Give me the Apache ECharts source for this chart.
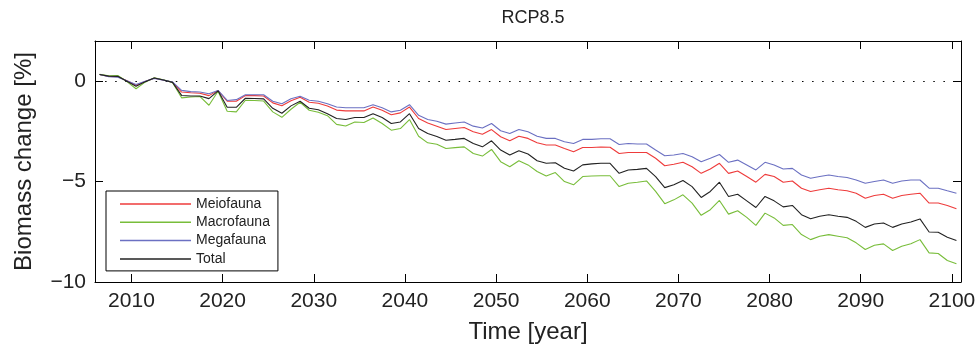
<!DOCTYPE html>
<html>
<head>
<meta charset="utf-8">
<script src="https://cdn.jsdelivr.net/npm/echarts@6/dist/echarts.min.js"></script>
<style>
html,body{margin:0;padding:0;background:#fff;}
#chart{width:979px;height:352px;}
</style>
</head>
<body>
<div id="chart"></div>
<script>
const titleText = "RCP8.5";
const xName = "Time [year]";
const yName = "Biomass change [%]";
const seriesNames = ["Meiofauna", "Macrofauna", "Megafauna", "Total"];
const xTicks = [2010, 2020, 2030, 2040, 2050, 2060, 2070, 2080, 2090, 2100];
const yTicks = [-10, -5, 0];

const years = [
 2006.5, 2007.5, 2008.5, 2009.5, 2010.5, 2011.5, 2012.5, 2013.5, 2014.5, 2015.5,
 2016.5, 2017.5, 2018.5, 2019.5, 2020.5, 2021.5, 2022.5, 2023.5, 2024.5, 2025.5,
 2026.5, 2027.5, 2028.5, 2029.5, 2030.5, 2031.5, 2032.5, 2033.5, 2034.5, 2035.5,
 2036.5, 2037.5, 2038.5, 2039.5, 2040.5, 2041.5, 2042.5, 2043.5, 2044.5, 2045.5,
 2046.5, 2047.5, 2048.5, 2049.5, 2050.5, 2051.5, 2052.5, 2053.5, 2054.5, 2055.5,
 2056.5, 2057.5, 2058.5, 2059.5, 2060.5, 2061.5, 2062.5, 2063.5, 2064.5, 2065.5,
 2066.5, 2067.5, 2068.5, 2069.5, 2070.5, 2071.5, 2072.5, 2073.5, 2074.5, 2075.5,
 2076.5, 2077.5, 2078.5, 2079.5, 2080.5, 2081.5, 2082.5, 2083.5, 2084.5, 2085.5,
 2086.5, 2087.5, 2088.5, 2089.5, 2090.5, 2091.5, 2092.5, 2093.5, 2094.5, 2095.5,
 2096.5, 2097.5, 2098.5, 2099.5, 2100.5
];

const meiofauna = [
 0.33, 0.24, 0.22, 0.02, -0.20, -0.02, 0.15, 0.06, -0.05, -0.54,
 -0.58, -0.60, -0.72, -0.47, -1.00, -1.00, -0.72, -0.72, -0.74, -1.08,
 -1.22, -0.98, -0.80, -1.05, -1.10, -1.24, -1.44, -1.48, -1.48, -1.48,
 -1.29, -1.45, -1.67, -1.58, -1.29, -1.86, -2.08, -2.24, -2.41, -2.36,
 -2.31, -2.52, -2.64, -2.41, -2.77, -2.97, -2.74, -2.85, -3.07, -3.18,
 -3.18, -3.35, -3.51, -3.30, -3.30, -3.28, -3.29, -3.60, -3.55, -3.55,
 -3.55, -3.84, -4.21, -4.14, -4.04, -4.26, -4.59, -4.37, -4.09, -4.59,
 -4.47, -4.75, -5.03, -4.64, -4.75, -5.03, -4.97, -5.33, -5.49, -5.41,
 -5.33, -5.41, -5.46, -5.58, -5.83, -5.69, -5.63, -5.83, -5.69, -5.63,
 -5.58, -6.07, -6.07, -6.19, -6.35
];

const macrofauna = [
 0.34, 0.27, 0.28, -0.02, -0.38, -0.05, 0.17, 0.07, -0.06, -0.83,
 -0.79, -0.76, -1.20, -0.50, -1.50, -1.53, -0.95, -0.96, -0.99, -1.53,
 -1.80, -1.40, -1.05, -1.45, -1.55, -1.72, -2.15, -2.23, -2.03, -2.06,
 -1.83, -2.11, -2.44, -2.36, -1.91, -2.74, -3.07, -3.14, -3.35, -3.31,
 -3.27, -3.60, -3.73, -3.40, -4.01, -4.26, -3.96, -4.17, -4.50, -4.72,
 -4.55, -5.00, -5.16, -4.75, -4.72, -4.71, -4.71, -5.25, -5.08, -5.03,
 -4.97, -5.49, -6.10, -5.91, -5.66, -6.07, -6.68, -6.40, -5.94, -6.62,
 -6.45, -6.78, -7.18, -6.57, -6.81, -7.18, -7.14, -7.64, -7.89, -7.72,
 -7.64, -7.72, -7.80, -8.05, -8.38, -8.17, -8.10, -8.43, -8.22, -8.10,
 -7.89, -8.55, -8.58, -8.93, -9.09
];

const megafauna = [
 0.33, 0.22, 0.20, 0.02, -0.17, 0.00, 0.14, 0.05, -0.04, -0.46,
 -0.52, -0.54, -0.63, -0.46, -0.96, -0.92, -0.68, -0.68, -0.68, -1.00,
 -1.12, -0.88, -0.75, -0.95, -1.00, -1.12, -1.29, -1.32, -1.32, -1.32,
 -1.17, -1.32, -1.53, -1.45, -1.17, -1.70, -1.91, -2.00, -2.14, -2.08,
 -2.03, -2.24, -2.33, -2.11, -2.47, -2.61, -2.41, -2.52, -2.74, -2.85,
 -2.85, -3.02, -3.10, -2.90, -2.90, -2.87, -2.87, -3.15, -3.10, -3.13,
 -3.13, -3.43, -3.71, -3.68, -3.60, -3.76, -4.01, -3.84, -3.65, -4.04,
 -3.93, -4.17, -4.42, -4.04, -4.17, -4.37, -4.34, -4.67, -4.83, -4.75,
 -4.67, -4.75, -4.80, -4.92, -5.08, -5.00, -4.92, -5.08, -4.97, -4.92,
 -4.92, -5.33, -5.33, -5.46, -5.58
];

const total = [
 0.33, 0.25, 0.24, 0.00, -0.25, -0.03, 0.16, 0.06, -0.06, -0.71,
 -0.74, -0.74, -0.87, -0.48, -1.30, -1.30, -0.85, -0.86, -0.88, -1.35,
 -1.60, -1.23, -1.00, -1.35, -1.42, -1.62, -1.86, -1.91, -1.81, -1.81,
 -1.62, -1.81, -2.11, -2.03, -1.62, -2.36, -2.61, -2.76, -2.94, -2.90,
 -2.85, -3.10, -3.27, -2.97, -3.43, -3.68, -3.46, -3.63, -3.96, -4.09,
 -4.06, -4.34, -4.47, -4.17, -4.12, -4.09, -4.09, -4.59, -4.42, -4.39,
 -4.34, -4.75, -5.30, -5.16, -4.95, -5.25, -5.79, -5.49, -5.03, -5.74,
 -5.63, -5.96, -6.29, -5.74, -5.96, -6.26, -6.19, -6.65, -6.85, -6.73,
 -6.65, -6.73, -6.78, -6.98, -7.28, -7.11, -7.06, -7.28, -7.11, -7.01,
 -6.86, -7.51, -7.52, -7.77, -7.93
];

const colors = ["#ee3b3b", "#78bd3a", "#6b70c2", "#222222"];
const font = "'Liberation Sans', Arial, sans-serif";

function pairs(vals) { return years.map((y, i) => [y, vals[i]]); }
const allValues = [meiofauna, macrofauna, megafauna, total];

const chart = echarts.init(document.getElementById('chart'), null, {renderer: 'canvas'});

const axisLineStyle = {show: true, onZero: false, lineStyle: {color: '#000', width: 1}};

const series = seriesNames.map((name, i) => ({
  name: name,
  type: 'line',
  xAxisIndex: 0,
  yAxisIndex: 0,
  data: pairs(allValues[i]),
  symbol: 'none',
  lineStyle: {color: colors[i], width: 1.1},
  itemStyle: {color: colors[i]},
  z: 3 + i
}));
series[0].markLine = {
  silent: true,
  symbol: ['none', 'none'],
  label: {show: false},
  lineStyle: {color: '#000', width: 1.2, type: [1.5, 8.6]},
  data: [{yAxis: 0}],
  animation: false
};

chart.setOption({
  animation: false,
  backgroundColor: '#fff',
  title: {
    text: titleText,
    left: 528,
    textAlign: 'center',
    top: 4,
    textStyle: {fontFamily: font, fontSize: 18, fontWeight: 'normal', color: '#222'}
  },
  legend: {
    data: seriesNames,
    orient: 'vertical',
    left: 106,
    top: 191,
    padding: [6, 8, 5, 14],
    itemGap: 4.3,
    itemWidth: 71,
    itemHeight: 1.5,
    icon: 'rect',
    borderColor: '#000',
    borderWidth: 1,
    backgroundColor: '#fff',
    textStyle: {fontFamily: font, fontSize: 14, color: '#222', lineHeight: 14, padding: [0, 0, 0, 0]}
  },
  grid: {left: 95, right: 18, top: 41, bottom: 70, containLabel: false},
  xAxis: [
    {
      type: 'value', min: 2006, max: 2101, position: 'bottom',
      name: xName, nameLocation: 'middle', nameGap: 38,
      nameTextStyle: {fontFamily: font, fontSize: 24, color: '#222'},
      axisLine: axisLineStyle,
      axisTick: {show: true, inside: true, length: 8, customValues: xTicks, lineStyle: {color: '#000'}},
      axisLabel: {show: true, margin: 9, customValues: xTicks, fontFamily: font, fontSize: 21, color: '#222',
        formatter: v => String(v)},
      splitLine: {show: false}
    },
    {
      type: 'value', min: 2006, max: 2101, position: 'top',
      axisLine: axisLineStyle,
      axisTick: {show: true, inside: true, length: 8, customValues: xTicks, lineStyle: {color: '#000'}},
      axisLabel: {show: false},
      splitLine: {show: false}
    }
  ],
  yAxis: [
    {
      type: 'value', min: -10, max: 2, position: 'left',
      name: yName, nameLocation: 'middle', nameGap: 59,
      nameTextStyle: {fontFamily: font, fontSize: 24, color: '#222'},
      axisLine: axisLineStyle,
      axisTick: {show: true, inside: true, length: 8, customValues: yTicks, lineStyle: {color: '#000'}},
      axisLabel: {show: true, margin: 9, customValues: yTicks, fontFamily: font, fontSize: 21, color: '#222',
        formatter: v => (v < 0 ? '\u2212' + Math.abs(v) : String(v))},
      splitLine: {show: false}
    },
    {
      type: 'value', min: -10, max: 2, position: 'right',
      axisLine: axisLineStyle,
      axisTick: {show: true, inside: true, length: 8, customValues: yTicks, lineStyle: {color: '#000'}},
      axisLabel: {show: false},
      splitLine: {show: false}
    }
  ],
  series: series
});
</script>
</body>
</html>
